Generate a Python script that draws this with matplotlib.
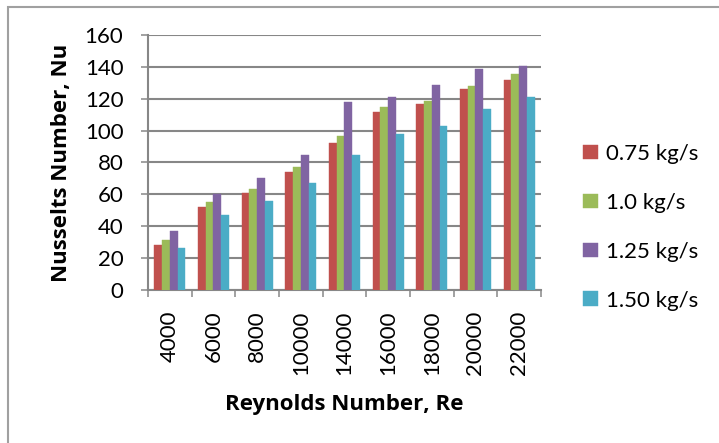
import numpy as np
import matplotlib.pyplot as plt
from matplotlib.patches import Rectangle

# Reynolds number categories and Nusselt number per mass flow rate
reynolds = ["4000", "6000", "8000", "10000", "14000", "16000", "18000", "20000", "22000"]
flow_labels = ["0.75 kg/s", "1.0 kg/s", "1.25 kg/s", "1.50 kg/s"]
nu_075 = [28, 52, 61, 74, 92, 112, 117, 126, 132]
nu_100 = [31, 55, 63, 77, 97, 115, 119, 128, 136]
nu_125 = [37, 60, 70, 85, 118, 121, 129, 139, 141]
nu_150 = [26, 47, 56, 67, 85, 98, 103, 114, 121]

colors = ["#C0504D", "#9BBB59", "#8064A2", "#4BACC6"]
series = [nu_075, nu_100, nu_125, nu_150]

plt.rcParams['font.family'] = ['Lato', 'DejaVu Sans']
grid_col = "#878787"

fig = plt.figure(figsize=(7.19, 4.43), dpi=100)
ax = fig.add_axes([0.2058, 0.3465, 0.5466, 0.5734])

# outer chart frame (only top and left edges fall inside the image)
fig.patches.append(Rectangle((8 / 719, -0.1), 1.2, 1 - 7 / 443 + 0.1,
                             transform=fig.transFigure, fill=False,
                             edgecolor="#A0A0A0", linewidth=1.5))

x = np.arange(len(reynolds))
w = 0.178
for i, (vals, c, lab) in enumerate(zip(series, colors, flow_labels)):
    ax.bar(x + (i - 1.5) * w, vals, width=w, color=c, label=lab,
           edgecolor=c, linewidth=0.3, zorder=3)

ax.set_xlim(-0.5, len(reynolds) - 0.5)
ax.set_ylim(0, 160)
ax.set_yticks(range(0, 161, 20))
ax.tick_params(axis='y', labelsize=16, length=4.7, width=1.1, color=grid_col, pad=13)
ax.set_xticks(x)
ax.set_xticklabels(reynolds, rotation=90, fontsize=16)
ax.tick_params(axis='x', length=0, pad=15)
ax.set_xticks(np.arange(-0.5, len(reynolds)), minor=True)
ax.tick_params(axis='x', which='minor', length=5, width=1.1, color=grid_col)

ax.yaxis.grid(True, color=grid_col, linewidth=1.5, zorder=0)
ax.set_axisbelow(True)
for side in ["top", "right"]:
    ax.spines[side].set_visible(False)
for side in ["left", "bottom"]:
    ax.spines[side].set_color(grid_col)
    ax.spines[side].set_linewidth(1.5)

ax.set_ylabel("Nusselts Number, Nu", fontsize=16, fontweight='bold',
              family=['Open Sans', 'DejaVu Sans'], labelpad=9)
ax.set_xlabel("Reynolds Number, Re", fontsize=16, fontweight='bold',
              family=['Open Sans', 'DejaVu Sans'], labelpad=14)

ax.legend(loc='center left', bbox_to_anchor=(1.056, 0.245), frameon=False,
          fontsize=16, handlelength=0.68, handleheight=0.64, handletextpad=0.35,
          labelspacing=1.3)

fig.savefig("out.png", dpi=100)
